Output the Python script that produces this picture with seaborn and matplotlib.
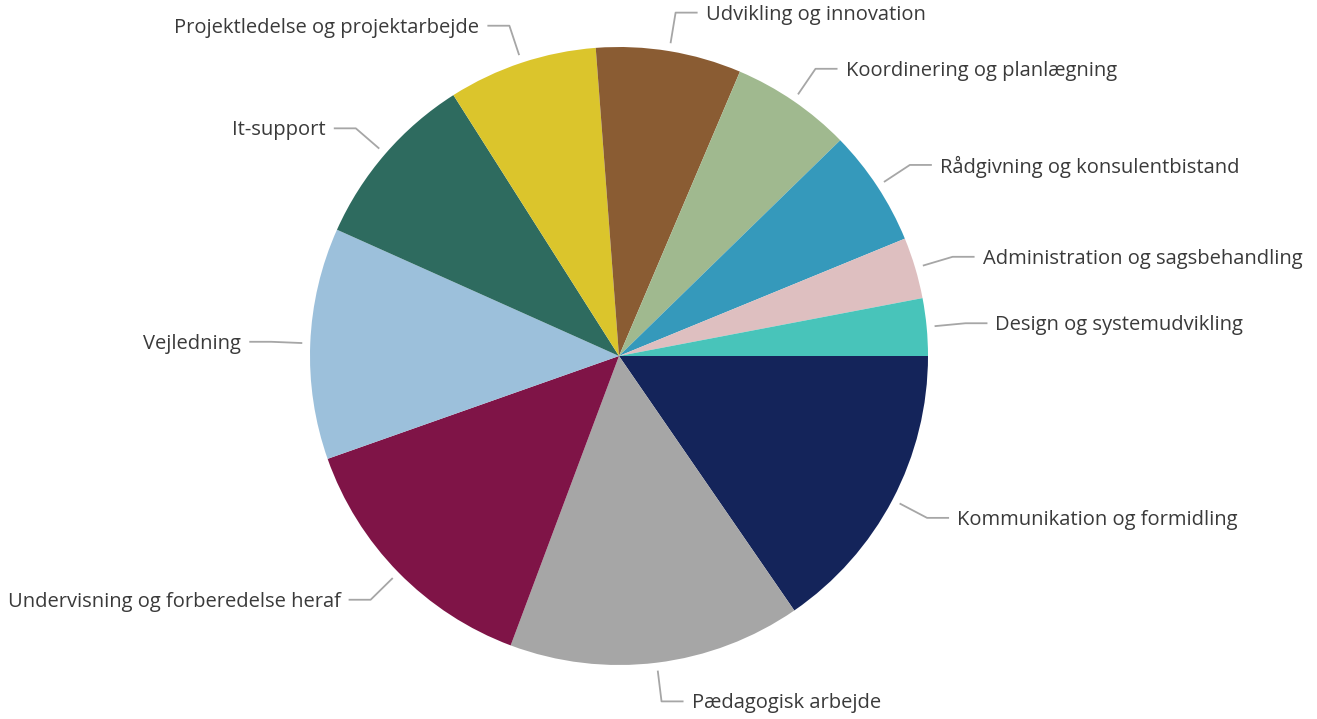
import numpy as np
import matplotlib
matplotlib.use("Agg")
import matplotlib.pyplot as plt
import seaborn as sns

categories = [
    "Kommunikation og formidling",
    "Pædagogisk arbejde",
    "Undervisning og forberedelse heraf",
    "Vejledning",
    "It-support",
    "Projektledelse og projektarbejde",
    "Udvikling og innovation",
    "Koordinering og planlægning",
    "Rådgivning og konsulentbistand",
    "Administration og sagsbehandling",
    "Design og systemudvikling",
]
values = [15.4, 15.3, 13.9, 12.1, 9.3, 7.8, 7.6, 6.3, 6.1, 3.2, 3.0]
colors = ["#14245A", "#A6A6A6", "#7F1447", "#9CC0DB", "#2E6B5F", "#DBC52C",
          "#8A5C33", "#A0B98F", "#3599BB", "#DEBFC0", "#48C4BA"]

sns.set_theme(style="white")
plt.rcParams["font.family"] = ["Open Sans", "DejaVu Sans"]

W, H = 1317, 719
fig = plt.figure(figsize=(W / 100, H / 100), dpi=100)
ax = fig.add_axes([0, 0, 1, 1])
ax.set_xlim(0, W)
ax.set_ylim(0, H)
ax.set_aspect("equal")
ax.axis("off")

cx, cy, R = 619, H - 356, 309
wedges, _ = ax.pie(values, colors=sns.color_palette(colors), startangle=0,
                   counterclock=False, center=(cx, cy), radius=R,
                   wedgeprops=dict(linewidth=0))
ax.set_xlim(0, W)
ax.set_ylim(0, H)

line_col = "#A6A6A6"
text_col = "#3A3A3A"
for w, lab in zip(wedges, categories):
    mid = np.deg2rad((w.theta1 + w.theta2) / 2)
    c, s = np.cos(mid), np.sin(mid)
    p0 = (cx + (R + 8) * c, cy + (R + 8) * s)
    p1 = (cx + (R + 39) * c, cy + (R + 39) * s)
    side = 1 if c >= 0 else -1
    p2 = (p1[0] + side * 22, p1[1])
    ax.plot([p0[0], p1[0], p2[0]], [p0[1], p1[1], p2[1]], color=line_col, lw=1.3,
            solid_capstyle="butt")
    ax.text(p2[0] + side * 8, p2[1] - 2, lab, ha="left" if side > 0 else "right",
            va="center", fontsize=14.5, color=text_col)

fig.savefig("out.png", dpi=100)
